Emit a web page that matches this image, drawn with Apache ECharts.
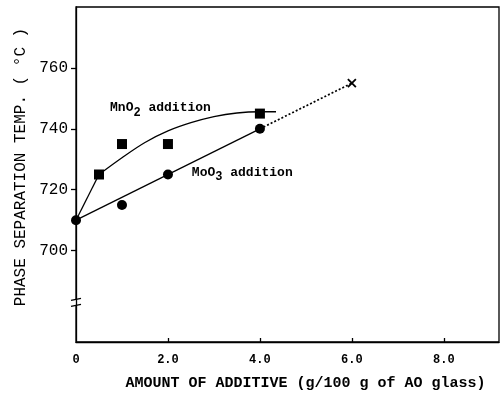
<!DOCTYPE html>
<html>
<head>
<meta charset="utf-8">
<script src="https://cdn.jsdelivr.net/npm/echarts@6/dist/echarts.min.js"></script>
<style>
  html, body { margin: 0; padding: 0; background: #fff; }
  #chart { width: 503px; height: 396px; }
</style>
</head>
<body>
<div id="chart"></div>
<script>
// axis ticks
const xTickValues = [2, 4, 6, 8];
const xLabelValues = [0, 2, 4, 6, 8];
const yTickValues = [700, 720, 740, 760];

// MnO2 addition (squares) and its fitted curve
const mno2Points = [[0.5, 725], [1, 735], [2, 735], [4, 745]];
const mno2Start = [[0, 710], [0.5, 725]];
const mno2Curve = [[0.5, 725], [1, 730.5], [1.5, 735.5], [2, 739.3], [2.5, 742], [3, 744], [3.5, 745.2], [4, 745.6], [4.35, 745.6]];

// MoO3 addition (circles), straight line and dotted extrapolation
const moo3Points = [[0, 710], [1, 715], [2, 725], [4, 740]];
const moo3Line = [[0, 710], [4, 740]];
const moo3Extrap = [[4, 740], [6, 755]];
const extrapPoint = [[6, 755]];

const font = 'Liberation Mono';
const black = '#000';
const line = { color: black, width: 1.3 };

const chart = echarts.init(document.getElementById('chart'));

const option = {
    animation: false,
    grid: { left: 76, right: 4, top: 7, bottom: 54, show: true, borderColor: black, borderWidth: 1.3 },
    xAxis: {
        type: 'value',
        min: 0,
        max: 9.2,
        name: 'AMOUNT OF ADDITIVE (g/100 g of AO glass)',
        nameLocation: 'middle',
        nameGap: 34,
        nameTextStyle: { fontFamily: font, fontSize: 15, fontWeight: 'bold', color: black, padding: [0, 0, 0, 36] },
        axisLine: { show: true, onZero: false, lineStyle: line },
        axisTick: { show: true, inside: true, length: 4, customValues: xTickValues, lineStyle: line },
        axisLabel: {
            customValues: xLabelValues,
            formatter: v => (v === 0 ? '0' : v.toFixed(1)),
            fontFamily: font, fontSize: 12, fontWeight: 'bold', color: black, margin: 12
        },
        splitLine: { show: false }
    },
    yAxis: {
        type: 'value',
        min: 670,
        max: 780,
        name: 'PHASE SEPARATION TEMP. ( \u00B0C )',
        nameLocation: 'middle',
        nameRotate: 90,
        nameGap: 46,
        nameTextStyle: { fontFamily: font, fontSize: 16, color: black, padding: [0, 0, 0, 15] },
        axisLine: { show: true, onZero: false, lineStyle: line },
        axisTick: { show: true, length: 5, customValues: yTickValues, lineStyle: line },
        axisLabel: { customValues: yTickValues, fontFamily: font, fontSize: 16, color: black, margin: 8 },
        splitLine: { show: false }
    },
    series: [
        { type: 'line', data: mno2Start, symbol: 'none', lineStyle: line, z: 2 },
        { type: 'line', data: mno2Curve, smooth: 0.35, symbol: 'none', lineStyle: line, z: 2 },
        { type: 'scatter', name: 'MnO2', data: mno2Points, symbol: 'rect', symbolSize: 10, itemStyle: { color: black, opacity: 1 }, z: 3 },
        { type: 'line', data: moo3Line, symbol: 'none', lineStyle: line, z: 2 },
        { type: 'line', data: moo3Extrap, symbol: 'none', lineStyle: { color: black, width: 1.7, type: [2, 2] }, z: 2 },
        { type: 'scatter', name: 'MoO3', data: moo3Points, symbol: 'circle', symbolSize: 10, itemStyle: { color: black, opacity: 1 }, z: 3 },
        {
            type: 'scatter', data: extrapPoint,
            symbol: 'path://M0,0L10,10M10,0L0,10', symbolSize: 8,
            itemStyle: { color: 'none', borderColor: black, borderWidth: 1.8, opacity: 1 }, z: 3
        }
    ]
};
chart.setOption(option);

// curve labels and the axis break, placed in data coordinates
const px = p => chart.convertToPixel({ xAxisIndex: 0, yAxisIndex: 0 }, p);
const labelStyle = (txt) => ({
    text: txt,
    fontFamily: font, fontSize: 13, fontWeight: 'bold', fill: black,
    rich: {
        b: { fontFamily: font, fontSize: 13, fontWeight: 'bold', color: black },
        s: { fontFamily: font, fontSize: 12, fontWeight: 'bold', color: black, padding: [9, 0, 0, 0] }
    }
});
const mnPos = px([0.74, 747.6]);
const moPos = px([2.52, 726.4]);
const brk = px([0, 683]);

chart.setOption({
    graphic: [
        { type: 'text', x: mnPos[0], y: mnPos[1] - 8, style: labelStyle('{b|MnO}{s|2}{b| addition}') },
        { type: 'text', x: moPos[0], y: moPos[1] - 8, style: labelStyle('{b|MoO}{s|3}{b| addition}') },
        {
            type: 'group', x: brk[0], y: brk[1],
            children: [
                { type: 'rect', shape: { x: -2, y: -3, width: 4, height: 6 }, style: { fill: '#fff' } },
                { type: 'line', shape: { x1: -5, y1: -2, x2: 5, y2: -4 }, style: { stroke: black, lineWidth: 1.3 } },
                { type: 'line', shape: { x1: -5, y1: 4, x2: 5, y2: 2 }, style: { stroke: black, lineWidth: 1.3 } }
            ]
        }
    ]
});

window.addEventListener('resize', () => chart.resize());
</script>
</body>
</html>
